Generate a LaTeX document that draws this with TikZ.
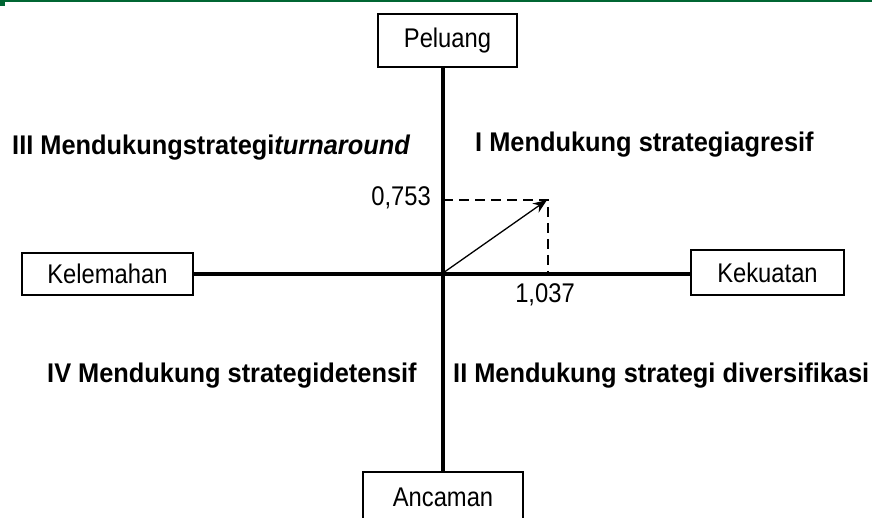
\documentclass[tikz,border=0pt]{standalone}
\usepackage{fontspec}
\setmainfont{Liberation Sans}[FakeStretch=0.88, BoldFeatures={FakeStretch=0.94}, BoldItalicFeatures={FakeStretch=0.94}]
\usetikzlibrary{arrows.meta}
\definecolor{topgreen}{RGB}{0,102,51}
\begin{document}
\begin{tikzpicture}[x=1pt,y=-1pt,
  every node/.style={font=\fontsize{27}{30}\selectfont, inner sep=0pt},
  axisbox/.style={draw, line width=2.8pt, fill=white, align=center},
  axisline/.style={line width=3.6pt},
  quad/.style={font=\fontsize{27}{30}\selectfont\bfseries, anchor=base west},
  dashline/.style={line width=2.4pt, dash pattern=on 10pt off 6pt}
]
\useasboundingbox (0,0) rectangle (872,518);
\fill[white] (0,0) rectangle (872,518);
\draw[topgreen, line width=3pt] (0,1) -- (872,1);
\fill[topgreen] (0,0) rectangle (5,6);

% boxes
\node[axisbox, minimum width=139pt, minimum height=53pt] (pel) at (447.5,40.5) {Peluang};
\node[axisbox, minimum width=171pt, minimum height=42pt] (kel) at (107.5,274) {Kelemahan};
\node[axisbox, minimum width=153pt, minimum height=45pt] (kek) at (767.5,272.5) {Kekuatan};
\node[axisbox, minimum width=160pt, minimum height=54pt] (anc) at (443,499) {};
\node (anct) at (443,497) {Ancaman};

\coordinate (o) at (443,273);
\coordinate (tip) at (547,200);
\coordinate (ty) at (443,200);
\coordinate (tx) at (548,273);
\coordinate (tc) at (548,200);

% axes
\draw[axisline] (pel.south -| o) -- (anc.north -| o);
\draw[axisline] (kel.east) -- (kek.west |- kel.east);

% dashed projections
\draw[dashline] (ty) -- (tc) -- (tx);
\draw[dashline] (o) -- (tx);

% vector
\draw[line width=1.3pt, -{Stealth[length=14pt,width=11pt]}] (o) -- (tip);

% values
\node[anchor=east] (vy) at (431,198) {0,753};
\node[anchor=center] (vx) at (545,295) {1,037};

% quadrant labels
\node[quad] (q3) at (12,155) {III Mendukungstrategi\textit{turnaround}};
\node[quad] (q1) at (475,152) {I Mendukung strategiagresif};
\node[quad] (q4) at (47,382) {IV Mendukung strategidetensif};
\node[quad] (q2) at (453,382) {II Mendukung strategi diversifikasi};
\end{tikzpicture}
\end{document}
